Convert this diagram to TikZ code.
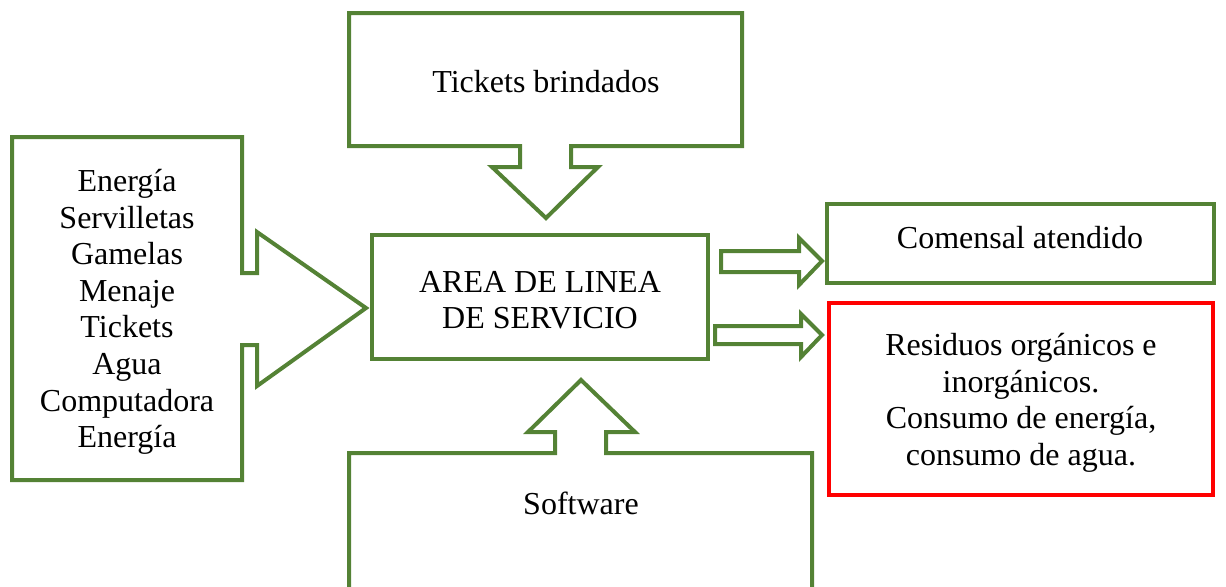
\documentclass[tikz,border=0pt]{standalone}
\usepackage{fontspec}
\setmainfont{Liberation Serif}
\definecolor{verde}{HTML}{548235}
\definecolor{rojo}{HTML}{FF0000}
\tikzset{
  contorno/.style={draw=verde, line width=2pt, line join=miter},
  caja/.style={contorno, rectangle, align=center, inner sep=0pt},
  texto/.style={align=center, font=\fontsize{16}{18.3}\selectfont},
}
\begin{document}
\begin{tikzpicture}[x=0.5pt, y=-0.5pt, every node/.style={texto}]
                \clip (0,0) rectangle (1226,586);
                % llamadas con flecha
                \draw[contorno] (12,137) -- (242,137) -- (242,273) -- (257,273) -- (257,232) -- (366,308) -- (257,386) -- (257,345) -- (242,345) -- (242,480) -- (12,480) -- cycle;
                \draw[contorno] (349,13) -- (742,13) -- (742,146) -- (571,146) -- (571,167) -- (598,167) -- (546,218) -- (492,167) -- (520,167) -- (520,146) -- (349,146) -- cycle;
                \draw[contorno] (349,620) -- (349,453) -- (555,453) -- (555,432) -- (528,432) -- (581,380) -- (635,432) -- (606,432) -- (606,453) -- (812,453) -- (812,620);
                \node (entradas) at (127,312) {Energía\\Servilletas\\Gamelas\\Menaje\\Tickets\\Agua\\Computadora\\Energía};
                \node (tickets) at (546,82) {Tickets brindados};
                \node (software) at (581,503) {Software};
                % proceso y salidas
                \node[caja, texto, minimum width=168pt, minimum height=62pt] (area) at (540,297) {};
                \node (areatxt) at (540,300) {AREA DE LINEA\\DE SERVICIO};
                \node[caja, texto, minimum width=193.5pt, minimum height=39.5pt] (comensal) at (1020.5,243.5) {};
                \node (comensaltxt) at (1020,238) {Comensal atendido};
                \node[caja, texto, draw=rojo, minimum width=192pt, minimum height=96pt] (residuos) at (1021,399) {};
                \node (residuostxt) at (1021,403) {Residuos orgánicos e\\inorgánicos.\\Consumo de energía,\\consumo de agua.};
                \draw[contorno] (721,251) -- (799,251) -- (799,238) -- (822,261) -- (799,285) -- (799,272) -- (721,272) -- cycle;
                \draw[contorno] (715,326) -- (801,326) -- (801,314) -- (822,335) -- (801,357) -- (801,344) -- (715,344) -- cycle;
            \end{tikzpicture}
\end{document}
